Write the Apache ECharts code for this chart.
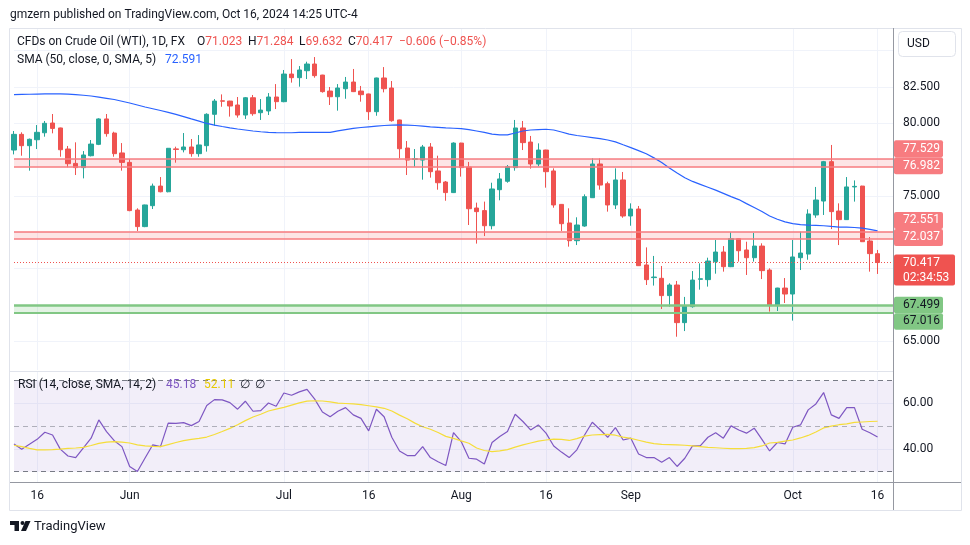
<!DOCTYPE html>
<html><head><meta charset="utf-8">
<script src="https://cdn.jsdelivr.net/npm/echarts@6/dist/echarts.min.js"></script>
<style>html,body{margin:0;padding:0;background:#fff}#c{width:970px;height:545px}</style>
</head><body><div id="c"></div>
<script>
// ---------------- data ----------------
const dates = [
'05-13','05-14','05-15','05-16','05-17','05-20','05-21','05-22','05-23','05-24','05-27','05-28','05-29','05-30','05-31',
'06-03','06-04','06-05','06-06','06-07','06-10','06-11','06-12','06-13','06-14','06-17','06-18','06-19','06-20','06-21','06-24','06-25','06-26','06-27','06-28',
'07-01','07-02','07-03','07-04','07-05','07-08','07-09','07-10','07-11','07-12','07-15','07-16','07-17','07-18','07-19','07-22','07-23','07-24','07-25','07-26','07-29','07-30','07-31',
'08-01','08-02','08-05','08-06','08-07','08-08','08-09','08-12','08-13','08-14','08-15','08-16','08-19','08-20','08-21','08-22','08-23','08-26','08-27','08-28','08-29','08-30',
'09-02','09-03','09-04','09-05','09-06','09-09','09-10','09-11','09-12','09-13','09-16','09-17','09-18','09-19','09-20','09-23','09-24','09-25','09-26','09-27','09-30',
'10-01','10-02','10-03','10-04','10-07','10-08','10-09','10-10','10-11','10-14','10-15','10-16'];

const open = [78.16,79.24,78.46,78.87,79.35,80.02,79.68,78.23,77.24,76.95, 77.77,78.55,80.30,79.33,77.96,77.31,74.03,72.89,74.33,75.68, 75.29,78.24,78.18,78.37,77.91,78.46,80.62,81.55,81.53,81.26, 80.57,81.76,80.73,80.85,81.81,81.49,83.39,83.14,83.62,84.08, 83.32,82.22,81.83,82.38,82.84,82.22,82.02,80.80,83.12,82.43, 80.23,78.30,77.52,77.47,78.37,76.72,75.96,75.23,78.64,76.99, 74.17,73.99,72.95,75.43,76.01,76.95,79.68,78.71,77.20,78.16, 76.72,74.42,73.14,71.92,72.93,74.88,77.20,75.84,74.38,76.10, 73.62,74.10,70.25,69.38,69.33,68.14,68.87,66.28,67.38,69.26, 69.24,70.47,71.14,70.13,72.06,71.28,70.75,71.55,69.90,67.45, 68.66,68.25,70.75,71.00,73.69,74.65,77.36,73.96,73.37,75.62, 75.68,71.90,71.023];
const high = [79.47,79.38,78.95,79.88,80.16,80.64,79.70,78.44,78.69,78.09, 78.85,80.35,80.64,79.42,78.64,77.54,74.15,74.40,75.85,76.30, 78.30,78.39,79.33,78.92,79.19,80.69,81.67,81.99,81.55,81.81, 81.81,81.95,81.67,82.08,82.70,83.67,84.42,83.94,84.24,84.56, 83.34,82.50,82.70,83.19,83.74,82.57,82.04,83.14,83.87,82.91, 80.25,78.78,78.23,78.51,78.64,77.77,76.03,78.69,78.66,77.34, 74.54,74.61,75.91,76.58,77.13,80.23,80.16,79.13,78.62,78.18, 76.90,74.44,74.15,73.53,75.11,77.59,77.59,75.98,76.90,76.65, 74.49,74.31,71.46,70.87,70.18,68.99,69.15,68.05,69.83,70.36, 70.75,71.97,71.55,72.50,72.08,71.85,72.45,71.74,70.02,68.68, 69.35,71.97,72.54,74.08,75.62,77.41,78.51,74.49,76.30,76.07, 75.70,72.17,71.284];
const low = [77.86,77.77,76.74,78.23,79.08,79.31,77.70,76.97,76.44,76.21, 77.72,78.50,79.08,77.70,76.74,73.95,72.59,72.85,74.10,75.25, 75.25,77.29,78.00,77.70,77.70,78.05,79.84,81.14,80.46,80.39, 80.30,80.52,80.23,80.57,80.98,81.45,82.80,82.52,83.05,83.14, 82.11,81.26,80.87,81.69,82.15,81.49,80.23,80.52,82.13,80.11, 77.59,76.44,77.01,76.12,76.26,75.43,74.67,75.20,76.33,73.00, 71.72,72.24,72.70,74.70,75.91,76.74,78.16,76.88,77.04,75.57, 74.19,72.59,71.51,71.62,72.88,74.86,75.43,73.92,74.10,73.50, 72.95,70.18,68.87,68.83,67.22,67.38,65.31,65.70,67.31,68.55, 68.76,69.65,69.79,70.10,70.48,69.56,70.48,69.28,67.04,67.08, 67.63,66.42,69.90,70.61,73.50,73.69,72.72,71.62,73.35,74.61, 71.83,69.79,69.632];
const close = [79.24,78.46,78.90,79.38,80.00,79.65,78.18,77.22,76.95,77.82, 78.57,80.30,79.29,77.91,77.31,73.99,72.89,74.38,75.68,75.29, 78.28,78.20,78.37,77.91,78.51,80.62,81.53,81.52,81.19,80.57, 81.76,80.66,80.91,81.81,81.49,83.39,83.14,83.67,84.08,83.28, 82.18,81.83,82.43,82.84,82.18,81.97,80.80,83.12,82.38,80.18, 78.25,77.47,77.56,78.37,76.67,75.91,75.23,78.64,76.95,74.12, 73.92,72.95,75.48,76.17,77.01,79.68,78.67,77.20,78.16,76.67, 74.38,73.09,71.92,73.00,74.95,77.20,75.75,74.38,76.10,73.62, 74.10,70.20,69.24,69.42,68.14,68.87,66.28,67.43,69.21,69.30, 70.52,71.14,70.13,72.06,71.23,70.75,71.55,69.86,67.45,68.66, 68.25,70.80,71.07,73.76,74.72,77.36,73.92,73.37,75.62,75.66, 71.85,71.03,70.417];

const sma50 = [81.98,81.99,82.00,82.01,82.02,82.02,82.02,82.01,81.97,81.93, 81.88,81.80,81.72,81.64,81.52,81.40,81.26,81.12,81.00,80.88, 80.75,80.61,80.46,80.30,80.15,79.99,79.88,79.78,79.69,79.61, 79.54,79.47,79.42,79.38,79.36,79.35,79.35,79.37,79.37,79.37, 79.37,79.38,79.48,79.57,79.65,79.71,79.76,79.81,79.85,79.88, 79.89,79.88,79.85,79.80,79.75,79.72,79.68,79.66,79.63,79.56, 79.47,79.37,79.26,79.21,79.20,79.33,79.47,79.54,79.57,79.59, 79.54,79.40,79.26,79.16,79.09,79.02,78.94,78.85,78.72,78.52, 78.33,78.12,77.90,77.62,77.30,76.92,76.58,76.25,76.00,75.80, 75.60,75.40,75.18,74.95,74.75,74.47,74.20,73.93,73.62,73.40, 73.22,73.10,73.02,72.99,72.97,72.95,72.90,72.86,72.85,72.83, 72.79,72.70,72.591];

const rsi = [42.2,39.9,42.0,44.2,47.3,46.1,39.9,36.9,36.2,40.5, 44.7,52.7,47.6,43.6,41.0,32.3,30.1,36.0,41.8,41.0, 51.3,51.2,51.5,50.2,52.0,59.0,61.6,61.5,60.3,57.4, 60.9,56.5,56.8,60.1,58.7,64.5,63.5,65.0,66.1,61.8, 56.2,54.1,56.5,58.1,54.9,53.4,47.9,57.4,54.1,45.1, 39.1,37.1,37.1,41.0,36.2,34.4,32.7,47.1,43.2,35.9, 35.5,33.4,42.8,45.4,47.6,55.2,52.0,48.3,50.5,46.9, 41.3,38.6,36.2,39.6,46.1,51.7,48.5,45.1,49.3,43.9, 44.7,37.8,36.2,36.2,34.2,36.2,32.3,35.9,41.3,41.3, 45.1,47.1,44.7,50.1,48.3,46.9,49.1,44.2,39.1,42.8, 42.2,49.5,50.5,57.1,59.7,64.7,54.9,53.4,58.1,58.1, 48.6,47.1,45.18];
const rsiMa = [41.6,41.0,40.2,39.6,39.6,39.7,39.9,40.2,40.4,40.7, 41.5,42.4,43.0,43.2,43.0,42.6,41.8,41.3,41.1,41.0, 41.9,42.8,43.6,44.2,44.6,45.2,46.3,47.6,49.0,50.6, 52.4,54.0,55.2,56.6,57.4,58.2,59.2,60.2,60.9,61.1, 61.0,60.6,60.1,59.9,59.7,59.4,58.9,58.4,57.8,56.6, 54.8,53.2,51.3,49.7,48.6,47.2,45.5,44.6,43.5,42.5, 40.4,39.3,38.8,39.1,39.7,40.8,41.8,42.6,43.4,43.9, 44.3,44.2,43.7,44.5,45.6,46.1,46.3,46.4,46.0,45.2, 44.6,43.8,43.0,42.3,42.0,41.9,41.8,41.6,41.3,41.0, 40.7,40.5,40.3,40.1,40.1,40.2,40.6,41.3,42.6,42.9, 43.4,43.9,44.8,45.9,47.4,49.2,50.0,50.6,51.0,51.6, 51.8,52.0,52.11];

const tickDates  = ['05-16','06-03','07-01','07-16','08-01','08-16','09-02','10-01','10-16'];
const tickLabels = ['16','Jun','Jul','16','Aug','16','Sep','Oct','16'];
const priceTicks  = [65, 67.5, 70, 72.5, 75, 77.5, 80, 82.5, 85];
const priceLabels = [65, 75, 80, 82.5];
const rsiTicks = [40, 60];
const redZones = [[76.982, 77.529], [72.037, 72.551]];
const greenZone = [67.016, 67.499];
const greenExtraLine = 66.9;
const lastPrice = 70.417;
const rsiBands = [30, 50, 70];

// ---------------- chart ----------------
const FONT = 'Roboto, "Noto Sans", sans-serif';
const TXT = '#131722', GRID = '#f0f3fa', UP = '#26a69a', DOWN = '#ef5350';
const AXISC = '#9598a1';
const xCats = dates.concat(['+1', '+2']);
const tickIdx = new Set(tickDates.map(d => dates.indexOf(d)));
const isTick = (i) => tickIdx.has(i);
const labelFor = (v) => { const k = tickDates.indexOf(v); return k >= 0 ? tickLabels[k] : ''; };

const chart = echarts.init(document.getElementById('c'), null, {renderer: 'canvas'});

const xBase = {
  type: 'category', data: xCats, boundaryGap: false,
  axisLine: {show: false}, axisTick: {show: false},
  splitLine: {show: true, interval: isTick, lineStyle: {color: GRID, width: 1}}
};

const option = {
  animation: false,
  backgroundColor: '#ffffff',
  textStyle: {fontFamily: FONT},
  grid: [
    {left: 14, right: 77, top: 28, height: 342},
    {left: 14, right: 77, top: 372, height: 110}
  ],
  xAxis: [
    Object.assign({}, xBase, {gridIndex: 0, axisLabel: {show: false}}),
    Object.assign({}, xBase, {gridIndex: 1, axisLabel: {show: true, interval: isTick, formatter: labelFor, color: TXT, fontSize: 12, fontFamily: FONT, margin: 8}})
  ],
  yAxis: [
    {type: 'value', gridIndex: 0, position: 'right', min: 63.02, max: 86.56,
     axisLine: {show: false}, axisTick: {show: false, customValues: priceTicks},
     axisLabel: {customValues: priceLabels, formatter: v => v.toFixed(3), color: TXT, fontSize: 12, fontFamily: FONT, margin: 10},
     splitLine: {show: true, lineStyle: {color: GRID, width: 1}}},
    {type: 'value', gridIndex: 1, position: 'right', min: 25.5, max: 73.7,
     axisLine: {show: false}, axisTick: {show: false, customValues: rsiTicks},
     axisLabel: {customValues: rsiTicks, formatter: v => v.toFixed(2), color: TXT, fontSize: 12, fontFamily: FONT, margin: 10},
     splitLine: {show: true, lineStyle: {color: GRID, width: 1}}}
  ],
  series: [
    {
      name: 'levels', type: 'line', xAxisIndex: 0, yAxisIndex: 0, data: [], z: 1, silent: true,
      markArea: {silent: true, label: {show: false}, data: [
        [{yAxis: redZones[0][0], itemStyle: {color: 'rgba(247,124,128,0.2)'}}, {yAxis: redZones[0][1]}],
        [{yAxis: redZones[1][0], itemStyle: {color: 'rgba(247,124,128,0.2)'}}, {yAxis: redZones[1][1]}],
        [{yAxis: greenZone[0], itemStyle: {color: 'rgba(129,199,132,0.22)'}}, {yAxis: greenZone[1]}]
      ]},
      markLine: {silent: true, symbol: 'none', label: {show: false}, emphasis: {disabled: true}, data: [
        {yAxis: redZones[0][0], lineStyle: {color: '#f77c80', width: 1.5, type: 'solid'}},
        {yAxis: redZones[0][1], lineStyle: {color: '#f77c80', width: 1.5, type: 'solid'}},
        {yAxis: redZones[1][0], lineStyle: {color: '#f77c80', width: 1.5, type: 'solid'}},
        {yAxis: redZones[1][1], lineStyle: {color: '#f77c80', width: 1.5, type: 'solid'}},
        {yAxis: greenZone[1], lineStyle: {color: '#81c784', width: 2.5, type: 'solid'}},
        {yAxis: greenZone[0], lineStyle: {color: '#81c784', width: 1.2, type: 'solid'}},
        {yAxis: greenExtraLine, lineStyle: {color: '#81c784', width: 1.2, type: 'solid'}},
        {yAxis: lastPrice, lineStyle: {color: '#ef5350', width: 1, type: [1, 2]}}
      ]}
    },
    {
      name: 'WTI', type: 'candlestick', xAxisIndex: 0, yAxisIndex: 0, z: 2, clip: false,
      barWidth: '62%',
      data: dates.map((d, i) => [open[i], close[i], low[i], high[i]]),
      itemStyle: {color: UP, color0: DOWN, borderColor: UP, borderColor0: DOWN, borderWidth: 1}
    },
    {
      name: 'SMA 50', type: 'line', xAxisIndex: 0, yAxisIndex: 0, z: 3, data: sma50,
      symbol: 'none', lineStyle: {color: '#2962ff', width: 1.2}, silent: true
    },
    {
      name: 'rsiLevels', type: 'line', xAxisIndex: 1, yAxisIndex: 1, data: [], z: 1, silent: true,
      markArea: {silent: true, label: {show: false}, data: [
        [{yAxis: rsiBands[0], itemStyle: {color: 'rgba(126,87,194,0.1)'}}, {yAxis: rsiBands[2]}]
      ]},
      markLine: {silent: true, symbol: 'none', label: {show: false}, data: [
        {yAxis: rsiBands[2], lineStyle: {color: '#787b86', width: 1, type: [5, 4]}},
        {yAxis: rsiBands[1], lineStyle: {color: 'rgba(120,123,134,0.55)', width: 1, type: [5, 4]}},
        {yAxis: rsiBands[0], lineStyle: {color: '#787b86', width: 1, type: [5, 4]}}
      ]}
    },
    {
      name: 'RSI', type: 'line', xAxisIndex: 1, yAxisIndex: 1, z: 3, data: rsi,
      symbol: 'none', lineStyle: {color: '#7e57c2', width: 1.2}, silent: true
    },
    {
      name: 'RSI MA', type: 'line', xAxisIndex: 1, yAxisIndex: 1, z: 4, data: rsiMa,
      symbol: 'none', lineStyle: {color: '#f5dd3a', width: 1.2}, silent: true
    }
  ]
};
chart.setOption(option);

// ---------------- overlay text / frame ----------------
const F12 = '12px ' + FONT;
const t = (x, y, text, fill, font, extra) => Object.assign({type: 'text', x, y, silent: true, z: 50,
  style: Object.assign({text, fill: fill || TXT, font: font || F12, verticalAlign: 'middle', align: 'left'}, extra || {})});
const line = (x1, y1, x2, y2, color, w) => ({type: 'line', silent: true, z: 40,
  shape: {x1, y1, x2, y2}, style: {stroke: color, lineWidth: w || 1}});

const g = [];
g.push(t(10, 15, 'gmzern published on TradingView.com, Oct 16, 2024 14:25 UTC-4', TXT, '12px ' + FONT));
g.push({type: 'rect', silent: true, z: 40, shape: {x: 9.5, y: 28.5, width: 952, height: 482}, style: {fill: 'none', stroke: '#e0e3eb', lineWidth: 1}});
g.push(line(10, 371.5, 893, 371.5, '#e0e3eb', 1));
g.push(line(893.5, 28, 893.5, 510, AXISC, 1));
g.push(line(10, 482.5, 961, 482.5, AXISC, 1));
// USD box
g.push({type: 'rect', silent: true, z: 40, shape: {x: 898.5, y: 31.5, width: 57, height: 25, r: 4}, style: {fill: '#fff', stroke: '#e0e3eb', lineWidth: 1}});
g.push(t(907, 44, 'USD'));
// legend line 1
const RED = '#ef5350';
g.push(t(17, 42, 'CFDs on Crude Oil (WTI), 1D, FX'));
const ohlc = [['O', '71.023', 197], ['H', '71.284', 248], ['L', '69.632', 299], ['C', '70.417', 348]];
ohlc.forEach(([k, v, x]) => g.push(t(x, 42, '{l|' + k + '}{v|' + v + '}', TXT, F12, {rich: {l: {fill: TXT, font: F12}, v: {fill: RED, font: F12}}})));
g.push(t(399, 42, '\u22120.606 (\u22120.85%)', RED));
// legend line 2
g.push(t(17, 60, 'SMA (50, close, 0, SMA, 5)'));
g.push(t(165, 60, '72.591', '#2962ff'));
// RSI legend
g.push(t(18, 385, 'RSI (14, close, SMA, 14, 2)'));
g.push(t(166, 385, '45.18', '#7e57c2'));
g.push(t(204, 385, '52.11', '#e5c800'));
g.push(t(240, 385, '\u2205', TXT));
g.push(t(255, 385, '\u2205', TXT));
// TradingView logo
g.push({type: 'rect', silent: true, z: 40, shape: {x: 10, y: 521, width: 9, height: 4}, style: {fill: TXT}});
g.push({type: 'rect', silent: true, z: 40, shape: {x: 14.5, y: 521, width: 4.5, height: 10}, style: {fill: TXT}});
g.push({type: 'circle', silent: true, z: 40, shape: {cx: 22.5, cy: 523, r: 2}, style: {fill: TXT}});
g.push({type: 'polygon', silent: true, z: 40, shape: {points: [[25.5, 521], [30.5, 521], [26, 531], [21, 531]]}, style: {fill: TXT}});
g.push(t(34, 527, 'TradingView', TXT, '13px ' + FONT));

// ---------------- right-axis price labels ----------------
const py = v => chart.convertToPixel({yAxisIndex: 0}, v);
const box = (cy, h, w, text, bg, fg) => {
  g.push({type: 'rect', silent: true, z: 45, shape: {x: 894, y: cy - h / 2, width: w, height: h, r: 2}, style: {fill: bg}});
  g.push(t(903, cy, text, fg));
};
const H = 17;
// red zones: lower label at its level, upper stacked above
redZones.forEach(([lo, hi]) => {
  const yl = py(lo) - 1.5;
  box(yl, H, 49, lo.toFixed(3), '#f77c80', '#ffffff');
  box(yl - H, H, 49, hi.toFixed(3), '#f77c80', '#ffffff');
});
// green zone: upper label at its level, lower stacked below
{
  const yu = py(greenZone[1]);
  box(yu, H - 0.5, 49, greenZone[1].toFixed(3), '#81c784', TXT);
  box(yu + H - 0.5, H - 0.5, 49, greenZone[0].toFixed(3), '#81c784', TXT);
}
// last price with countdown
{
  const yp = py(lastPrice);
  g.push({type: 'rect', silent: true, z: 45, shape: {x: 894, y: yp - 8, width: 61, height: 31, r: 2}, style: {fill: '#ef5350'}});
  g.push(t(903, yp, lastPrice.toFixed(3), '#ffffff'));
  g.push(t(903, yp + 15, '02:34:53', '#ffffff'));
}
chart.setOption({graphic: g});
</script>
</body></html>
